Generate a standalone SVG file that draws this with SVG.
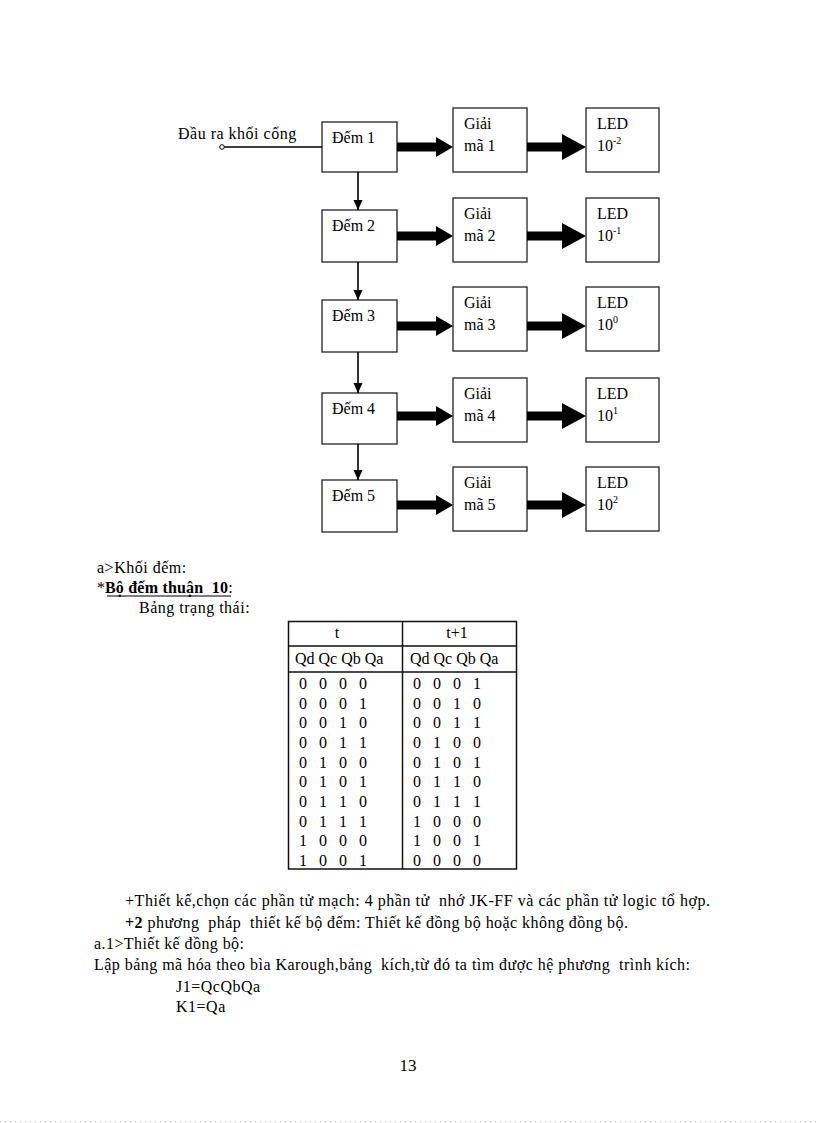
<svg xmlns="http://www.w3.org/2000/svg" width="816" height="1123" viewBox="0 0 816 1123">
<style>
text{font-family:"Liberation Serif","Times New Roman",serif;font-size:16px;fill:#000}
.box{fill:#fff;stroke:#222;stroke-width:1.3}
.thin{stroke:#000;stroke-width:1.6;fill:none}
.tbl{stroke:#111;stroke-width:1.5;fill:none}
.sup{font-size:10px}
.b{font-weight:bold}
.ls{letter-spacing:0.5px}
.pre{white-space:pre}
</style>
<defs>
<path id="arrA" d="M0,-4.5 H39 V-10 L56,0 L39,10 V4.5 H0 Z" fill="#000"/>
<path id="arrB" d="M0,-4.5 H35 V-13 L59,0 L35,13 V4.5 H0 Z" fill="#000"/>
<marker id="hv" markerWidth="10" markerHeight="11" refX="11" refY="5" orient="auto" markerUnits="userSpaceOnUse" viewBox="0 0 11 10">
<path d="M0,0 L11,5 L0,10 Z" fill="#000"/>
</marker>
</defs>

<g id="input">
<circle cx="222" cy="147" r="2.3" fill="#fff" stroke="#000" stroke-width="1"/>
<text x="178" y="139" class="ls">Đầu ra khối cống</text>
</g>

<g id="dem1"><rect class="box" x="322" y="122" width="75" height="50"/><text x="332" y="143">Đếm 1</text></g>
<g id="dem2"><rect class="box" x="322" y="210" width="75" height="52"/><text x="332" y="231">Đếm 2</text></g>
<g id="dem3"><rect class="box" x="322" y="300" width="75" height="52"/><text x="332" y="321">Đếm 3</text></g>
<g id="dem4"><rect class="box" x="322" y="393" width="75" height="51"/><text x="332" y="414">Đếm 4</text></g>
<g id="dem5"><rect class="box" x="322" y="480" width="75" height="52"/><text x="332" y="501">Đếm 5</text></g>

<g id="giai1"><rect class="box" x="453" y="108" width="74" height="64"/><text x="464" y="129">Giải</text><text x="464" y="151">mã 1</text></g>
<g id="giai2"><rect class="box" x="453" y="198" width="74" height="64"/><text x="464" y="219">Giải</text><text x="464" y="241">mã 2</text></g>
<g id="giai3"><rect class="box" x="453" y="287" width="74" height="64"/><text x="464" y="308">Giải</text><text x="464" y="330">mã 3</text></g>
<g id="giai4"><rect class="box" x="453" y="378" width="74" height="64"/><text x="464" y="399">Giải</text><text x="464" y="421">mã 4</text></g>
<g id="giai5"><rect class="box" x="453" y="467" width="74" height="64"/><text x="464" y="488">Giải</text><text x="464" y="510">mã 5</text></g>

<g id="led1"><rect class="box" x="586" y="108" width="73" height="64"/><text x="597" y="129">LED</text><text x="597" y="151">10<tspan class="sup" dy="-7">-2</tspan></text></g>
<g id="led2"><rect class="box" x="586" y="198" width="73" height="64"/><text x="597" y="219">LED</text><text x="597" y="241">10<tspan class="sup" dy="-7">-1</tspan></text></g>
<g id="led3"><rect class="box" x="586" y="287" width="73" height="64"/><text x="597" y="308">LED</text><text x="597" y="330">10<tspan class="sup" dy="-7">0</tspan></text></g>
<g id="led4"><rect class="box" x="586" y="378" width="73" height="64"/><text x="597" y="399">LED</text><text x="597" y="421">10<tspan class="sup" dy="-7">1</tspan></text></g>
<g id="led5"><rect class="box" x="586" y="467" width="73" height="64"/><text x="597" y="488">LED</text><text x="597" y="510">10<tspan class="sup" dy="-7">2</tspan></text></g>

<g id="connectors">
<line class="thin" x1="224.3" y1="147" x2="322" y2="147" stroke-width="1.2"/>
<line class="thin" x1="358" y1="172" x2="358" y2="210" marker-end="url(#hv)"/>
<line class="thin" x1="358" y1="262" x2="358" y2="300" marker-end="url(#hv)"/>
<line class="thin" x1="358" y1="352" x2="358" y2="393" marker-end="url(#hv)"/>
<line class="thin" x1="358" y1="444" x2="358" y2="480" marker-end="url(#hv)"/>
<use href="#arrA" x="397" y="147"/>
<use href="#arrA" x="397" y="236"/>
<use href="#arrA" x="397" y="326"/>
<use href="#arrA" x="397" y="416"/>
<use href="#arrA" x="397" y="505"/>
<use href="#arrB" x="527" y="147"/>
<use href="#arrB" x="527" y="236"/>
<use href="#arrB" x="527" y="326"/>
<use href="#arrB" x="527" y="416"/>
<use href="#arrB" x="527" y="505"/>
</g>

<g id="text-top">
<text x="97" y="573" class="ls">a&gt;Khối đếm:</text>
<text x="97" y="593" class="pre">*<tspan class="b" textLength="123">Bộ đếm thuận  10</tspan>:</text>
<line x1="107" y1="596" x2="231" y2="596" stroke="#000" stroke-width="1.2"/>
<text x="139" y="613" class="ls">Bảng trạng thái:</text>
</g>

<g id="table">
<rect class="tbl" x="288.5" y="621.5" width="228" height="247.5"/>
<line class="tbl" x1="402.5" y1="621.5" x2="402.5" y2="869"/>
<line class="tbl" x1="288.5" y1="646" x2="516.5" y2="646"/>
<line class="tbl" x1="288.5" y1="672" x2="516.5" y2="672"/>
<text x="337" y="638" text-anchor="middle">t</text>
<text x="457" y="638" text-anchor="middle">t+1</text>
<text x="295" y="664">Qd Qc Qb Qa</text>
<text x="410" y="664">Qd Qc Qb Qa</text>
<g text-anchor="middle">
<text y="689"><tspan x="303">0</tspan><tspan x="323">0</tspan><tspan x="343">0</tspan><tspan x="363">0</tspan><tspan x="417">0</tspan><tspan x="437">0</tspan><tspan x="457">0</tspan><tspan x="477">1</tspan></text>
<text y="708.7"><tspan x="303">0</tspan><tspan x="323">0</tspan><tspan x="343">0</tspan><tspan x="363">1</tspan><tspan x="417">0</tspan><tspan x="437">0</tspan><tspan x="457">1</tspan><tspan x="477">0</tspan></text>
<text y="728.4"><tspan x="303">0</tspan><tspan x="323">0</tspan><tspan x="343">1</tspan><tspan x="363">0</tspan><tspan x="417">0</tspan><tspan x="437">0</tspan><tspan x="457">1</tspan><tspan x="477">1</tspan></text>
<text y="748"><tspan x="303">0</tspan><tspan x="323">0</tspan><tspan x="343">1</tspan><tspan x="363">1</tspan><tspan x="417">0</tspan><tspan x="437">1</tspan><tspan x="457">0</tspan><tspan x="477">0</tspan></text>
<text y="767.7"><tspan x="303">0</tspan><tspan x="323">1</tspan><tspan x="343">0</tspan><tspan x="363">0</tspan><tspan x="417">0</tspan><tspan x="437">1</tspan><tspan x="457">0</tspan><tspan x="477">1</tspan></text>
<text y="787.4"><tspan x="303">0</tspan><tspan x="323">1</tspan><tspan x="343">0</tspan><tspan x="363">1</tspan><tspan x="417">0</tspan><tspan x="437">1</tspan><tspan x="457">1</tspan><tspan x="477">0</tspan></text>
<text y="807"><tspan x="303">0</tspan><tspan x="323">1</tspan><tspan x="343">1</tspan><tspan x="363">0</tspan><tspan x="417">0</tspan><tspan x="437">1</tspan><tspan x="457">1</tspan><tspan x="477">1</tspan></text>
<text y="826.7"><tspan x="303">0</tspan><tspan x="323">1</tspan><tspan x="343">1</tspan><tspan x="363">1</tspan><tspan x="417">1</tspan><tspan x="437">0</tspan><tspan x="457">0</tspan><tspan x="477">0</tspan></text>
<text y="846.4"><tspan x="303">1</tspan><tspan x="323">0</tspan><tspan x="343">0</tspan><tspan x="363">0</tspan><tspan x="417">1</tspan><tspan x="437">0</tspan><tspan x="457">0</tspan><tspan x="477">1</tspan></text>
<text y="866"><tspan x="303">1</tspan><tspan x="323">0</tspan><tspan x="343">0</tspan><tspan x="363">1</tspan><tspan x="417">0</tspan><tspan x="437">0</tspan><tspan x="457">0</tspan><tspan x="477">0</tspan></text>
</g>
</g>

<g id="text-bottom">
<text x="125" y="906" class="pre" textLength="585">+Thiết kế,chọn các phần tử mạch: 4 phần tử  nhớ JK-FF và các phần tử logic tổ hợp.</text>
<text x="125" y="928" class="pre" textLength="503"><tspan class="b">+2</tspan> phương  pháp  thiết kế bộ đếm: Thiết kế đồng bộ hoặc không đồng bộ.</text>
<text x="94" y="949" textLength="150">a.1&gt;Thiết kế đồng bộ:</text>
<text x="94" y="970" class="pre" textLength="596">Lập bảng mã hóa theo bìa Karough,bảng  kích,từ đó ta tìm được hệ phương  trình kích:</text>
<text x="176" y="992" class="ls">J1=QcQbQa</text>
<text x="176" y="1012" class="ls">K1=Qa</text>
<text x="408" y="1071" text-anchor="middle" style="font-size:17px">13</text>
</g>
<line x1="0" y1="1121.5" x2="816" y2="1121.5" stroke="#bbb" stroke-width="1" stroke-dasharray="1,4"/>
</svg>
